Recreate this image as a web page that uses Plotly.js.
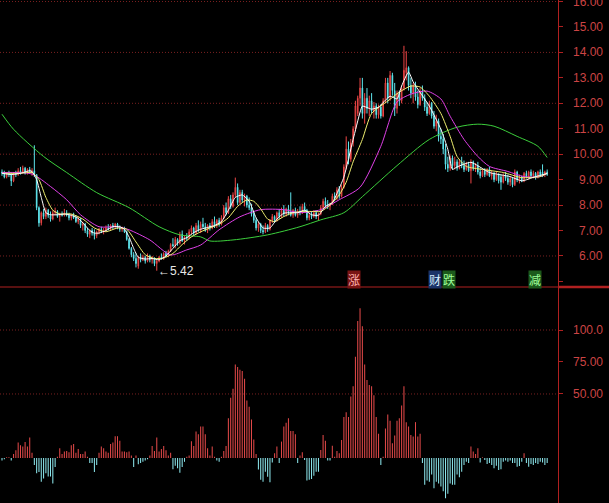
<!DOCTYPE html>
<html>
<head>
<meta charset="utf-8">
<script src="https://cdn.plot.ly/plotly-3.0.1.min.js"></script>
<style>
html,body{margin:0;padding:0;background:#000;}
#chart{width:609px;height:503px;}
</style>
</head>
<body>
<div id="chart"></div>
<script>
// ---------- data ----------
const opens = [
9.30,9.25,9.10,9.25,9.20,8.95,9.25,9.20,9.35,9.30,
9.45,9.25,9.40,9.30,9.35,9.20,7.90,7.30,7.70,7.55,
7.80,7.60,7.45,7.70,7.75,7.55,7.65,7.60,7.70,7.60,
7.50,7.60,7.50,7.35,7.45,7.20,7.25,7.00,6.85,7.00,
6.90,6.80,6.95,7.05,6.95,7.00,7.10,7.05,7.20,7.15,
7.25,7.10,7.05,7.10,6.95,6.65,6.30,6.05,5.90,5.60,
5.95,5.85,5.95,5.80,6.00,5.85,5.90,5.70,5.80,5.95,
5.90,6.10,6.00,6.20,6.45,6.40,6.65,6.50,6.85,6.60,
6.75,6.70,6.95,7.10,6.90,7.20,7.00,7.25,7.15,7.00,
7.20,7.10,7.35,7.20,7.40,7.25,7.50,7.90,7.70,8.25,
7.95,8.40,8.70,8.10,8.50,8.20,8.35,8.00,7.90,7.65,
7.40,7.10,7.25,7.00,6.95,7.20,7.05,7.40,7.55,7.40,
7.70,7.55,7.80,7.65,7.85,7.70,7.60,7.80,7.60,7.75,
7.70,7.95,7.80,7.50,7.60,7.55,7.70,7.55,7.65,7.90,
8.15,8.00,7.95,8.05,8.35,8.25,8.60,8.35,8.70,9.50,
10.20,9.80,10.45,11.00,11.60,12.20,12.60,11.60,12.20,11.80,
12.10,11.70,11.90,11.55,11.85,11.50,12.10,12.80,12.20,13.10,
12.50,11.80,12.40,12.10,12.60,13.20,13.40,12.70,12.40,12.70,
12.25,11.95,12.45,12.20,11.85,11.60,12.00,11.50,11.10,11.30,
10.70,10.60,10.20,9.60,9.45,9.85,9.55,9.70,9.45,9.70,
9.55,9.40,9.60,9.35,9.70,9.45,9.55,9.30,9.15,9.35,
9.20,9.40,9.15,9.25,9.00,9.20,9.10,8.90,9.15,9.05,
8.90,9.05,8.80,9.30,9.00,9.10,8.95,9.25,9.10,9.30,
9.15,9.25,9.10,9.30,9.30,9.20,9.30];
const highs = [
9.40,9.35,9.30,9.35,9.25,9.30,9.35,9.45,9.50,9.55,
9.50,9.45,9.50,9.45,10.35,9.20,7.95,7.75,7.85,7.90,
7.85,7.75,7.80,7.90,7.80,7.70,7.75,7.85,7.80,7.70,
7.65,7.70,7.60,7.55,7.50,7.35,7.30,7.10,7.05,7.10,
7.05,7.00,7.10,7.15,7.10,7.20,7.25,7.25,7.30,7.30,
7.30,7.20,7.15,7.15,7.00,6.70,6.35,6.15,6.10,6.00,
6.10,6.05,6.00,6.10,6.05,6.00,5.95,5.85,6.00,6.10,
6.15,6.20,6.25,6.50,6.70,6.75,6.70,6.95,7.00,6.80,
6.90,7.05,7.20,7.15,7.30,7.40,7.35,7.50,7.30,7.25,
7.30,7.45,7.55,7.45,7.50,7.60,8.00,8.10,8.35,8.40,
8.50,9.08,8.85,8.60,8.60,8.45,8.40,8.30,8.05,7.75,
7.50,7.35,7.30,7.20,7.30,7.25,7.45,7.65,7.60,7.75,
7.85,7.90,8.00,7.90,8.00,8.50,7.85,7.90,7.85,7.95,
8.05,8.10,7.85,7.70,7.75,7.80,7.80,7.70,8.00,8.25,
8.30,8.20,8.10,8.45,8.50,8.70,8.75,8.80,9.60,10.70,
10.50,10.60,11.10,12.10,12.30,13.00,13.00,12.40,12.60,12.30,
12.40,12.05,12.00,11.95,11.95,12.20,13.00,13.00,13.27,13.20,
12.80,12.50,12.50,12.70,14.26,14.05,13.45,13.00,12.80,12.85,
12.50,12.60,12.70,12.35,12.05,12.10,12.05,11.70,11.55,11.40,
11.00,10.80,10.40,9.90,9.95,9.95,9.90,9.80,9.80,9.90,
9.75,9.70,9.70,9.80,9.75,9.65,9.70,9.45,9.40,9.45,
9.45,9.50,9.35,9.30,9.30,9.25,9.20,9.25,9.30,9.20,
9.15,9.10,9.40,9.35,9.20,9.15,9.30,9.35,9.35,9.40,
9.35,9.30,9.35,9.40,9.60,9.35,9.40];
const lows = [
9.15,9.05,9.05,9.10,8.75,8.90,9.10,9.15,9.20,9.25,
9.20,9.20,9.25,9.15,9.10,7.80,7.15,7.20,7.45,7.45,
7.50,7.35,7.40,7.60,7.50,7.35,7.55,7.55,7.55,7.40,
7.40,7.45,7.30,7.25,7.10,7.00,6.90,6.75,6.70,6.80,
6.65,6.70,6.85,6.90,6.85,6.95,7.00,7.00,7.05,7.05,
7.05,6.95,6.95,6.90,6.60,6.25,5.95,5.80,5.55,5.50,
5.75,5.80,5.70,5.75,5.75,5.70,5.60,5.42,5.75,5.85,
5.85,5.95,5.95,6.15,6.35,6.30,6.40,6.45,6.55,6.45,
6.60,6.65,6.85,6.80,6.85,6.95,6.90,7.10,6.95,6.90,
7.00,7.05,7.10,7.10,7.15,7.20,7.45,7.60,7.65,7.85,
7.90,8.30,8.00,8.05,8.10,7.95,7.90,7.80,7.55,7.30,
7.00,6.95,6.90,6.85,6.90,6.95,7.00,7.30,7.30,7.35,
7.45,7.50,7.55,7.55,7.60,7.55,7.50,7.55,7.50,7.60,
7.65,7.70,7.40,7.40,7.45,7.50,7.45,7.40,7.60,7.85,
7.90,7.85,7.80,8.00,8.15,8.20,8.25,8.30,8.65,9.40,
9.60,9.70,10.30,10.90,11.50,11.90,11.40,11.20,11.60,11.50,
11.60,11.40,11.40,11.40,11.40,11.45,12.00,12.00,12.10,12.30,
11.50,11.60,11.90,12.00,12.50,12.90,12.50,12.20,12.00,12.10,
11.80,11.90,12.10,11.70,11.50,11.55,11.40,11.00,10.90,10.50,
10.40,10.00,9.40,9.30,9.35,9.40,9.40,9.35,9.40,9.45,
9.30,9.35,9.30,8.85,9.35,9.30,9.20,9.05,9.10,9.10,
9.15,9.10,9.00,8.90,8.95,8.85,8.60,8.85,8.95,8.80,
8.75,8.70,8.75,8.90,8.85,8.90,8.90,9.05,9.00,9.10,
9.05,9.00,9.05,9.10,9.10,9.10,9.15];
const closes = [
9.25,9.10,9.25,9.20,8.95,9.25,9.20,9.35,9.30,9.45,
9.25,9.40,9.30,9.35,9.20,7.90,7.30,7.70,7.55,7.80,
7.60,7.45,7.70,7.75,7.55,7.65,7.60,7.70,7.60,7.50,
7.60,7.50,7.35,7.45,7.20,7.25,7.00,6.85,7.00,6.90,
6.80,6.95,7.05,6.95,7.00,7.10,7.05,7.20,7.15,7.25,
7.10,7.05,7.10,6.95,6.65,6.30,6.05,5.90,5.70,5.95,
5.85,5.95,5.80,6.00,5.85,5.90,5.70,5.80,5.95,5.90,
6.10,6.00,6.20,6.45,6.40,6.65,6.50,6.85,6.60,6.75,
6.70,6.95,7.10,6.90,7.20,7.00,7.25,7.15,7.00,7.20,
7.10,7.35,7.20,7.40,7.25,7.50,7.90,7.70,8.25,7.95,
8.40,8.70,8.10,8.50,8.20,8.35,8.00,7.90,7.65,7.40,
7.10,7.25,7.00,6.95,7.20,7.05,7.40,7.55,7.40,7.70,
7.55,7.80,7.65,7.85,7.70,7.60,7.80,7.60,7.75,7.70,
7.95,7.80,7.50,7.60,7.55,7.70,7.55,7.65,7.90,8.15,
8.00,7.95,8.05,8.35,8.25,8.60,8.35,8.70,9.50,10.20,
9.80,10.45,11.00,11.90,12.20,12.60,11.60,12.20,11.80,12.10,
11.70,11.90,11.55,11.85,11.50,12.10,12.80,12.20,13.10,12.50,
11.80,12.40,12.10,12.60,13.30,13.40,12.70,12.40,12.70,12.25,
11.95,12.45,12.20,11.85,11.60,12.00,11.50,11.10,11.30,10.70,
10.60,10.20,9.60,9.45,9.85,9.55,9.70,9.45,9.70,9.55,
9.40,9.60,9.35,9.70,9.45,9.55,9.30,9.15,9.35,9.20,
9.40,9.15,9.25,9.00,9.20,8.95,8.90,9.15,9.05,8.90,
9.05,8.80,9.30,9.00,9.10,8.95,9.25,9.10,9.30,9.15,
9.25,9.10,9.30,9.15,9.20,9.30,9.20];

// lower-panel oscillator bars
const indicator = [
-2,-1,0.5,0.5,-2,3,6,12,10,9,
12.5,9,16,4,-5.5,-12,-11,-18.5,-16,-12,
-14.5,-14.5,-20,-7,1,7.5,3,5,5.5,4.5,
10,11,4,7,3,3,5,1,-4,-4,
-11,-5.5,4,9,7.5,5,4,11,12,17,
17,13.5,5,5,4.5,5,2,-7,2,-5,
-4,-3,-2,-1,2,9.4,5.5,16,5,7,
9.4,6,2,4,-8.8,-6,-8,-11.5,-7,-3,
1,2,13,9.4,20.6,18.5,24.5,24.5,18.5,7.5,
2,9,1,-2,-3,1,5.5,9.4,31,47,
54,73,71,69,68,62,45,40,30,14.5,
3,-9,-17,-18.5,-10.7,-14.6,-19,-3.6,3.6,9,
-4,12.8,24.5,27.6,31,21,21,18.5,-4,2,
4.4,-1.5,-17.7,-17,-16.4,-14,-10.7,-10.7,6.3,18,
13.5,-2,-2,9.6,1,5.5,3.6,14,32,35.7,
32,48,56,79,107,117,103,73,61,57,
56,49,32,19,-5.5,1,23,34,29,11.5,
17.5,29,31,41,56,28,24.5,18,16.7,28,
16.7,19,-4,-21,-17.7,-18.5,-13,-23.7,-18.5,-20,
-22.4,-26,-31.5,-28,-20,-21,-21,-13,-15,-10.7,
-5.5,-3,-4,9,5,3,7.5,-3.6,0.5,-1.5,
-4.7,-4,-5.5,-8,-6,-9.4,-8.8,-3,-2,-3,
-2,-4,-4,-6.8,-6.3,-3,3.6,-4,-6.8,-4.7,
-5.5,-4,-4.7,-3,-3.6,-5.5,-4];

// moving-average lines (read at sample bars)
const ma5Idx = [0,4,8,12,13,15,17,19,21,24,27,30,33,36,38,40,42,45,48,51,53,55,57,59,62,65,68,71,74,77,80,83,86,89,92,95,98,101,104,107,110,113,116,119,122,125,128,131,134,137,140,143,145,148,152,155,156,160,163,168,171,173,176,178,180,185,190,193,195,197,203,211,220,225,231,236];
const ma5Val = [9.25,9.20,9.25,9.35,9.32,9.00,8.30,7.70,7.62,7.62,7.65,7.60,7.48,7.20,7.00,6.90,6.90,7.00,7.15,7.15,7.05,6.75,6.30,5.95,5.88,5.90,5.85,6.00,6.30,6.60,6.72,6.92,7.05,7.12,7.20,7.35,7.80,8.30,8.40,8.15,7.50,7.10,7.10,7.45,7.68,7.70,7.70,7.80,7.62,7.60,7.95,8.10,8.45,9.10,10.58,11.65,11.89,11.77,11.85,12.28,12.17,12.68,13.23,12.84,12.56,11.89,10.98,10.19,9.40,9.50,9.68,9.28,9.12,8.95,9.12,9.24];
const ma10Idx = [0,8,13,16,19,22,25,30,35,40,45,50,54,58,62,66,70,74,78,82,86,90,94,98,102,106,109,112,115,118,122,126,130,134,138,142,146,149,152,156,160,167,172,177,181,185,190,194,197,201,208,217,225,233,236];
const ma10Val = [9.25,9.25,9.28,9.00,8.30,7.80,7.65,7.65,7.45,7.10,6.95,7.10,7.05,6.55,6.05,5.90,5.92,6.10,6.45,6.75,6.95,7.10,7.25,7.50,7.95,8.20,8.15,7.85,7.45,7.35,7.55,7.70,7.75,7.75,7.75,8.00,8.40,8.90,9.70,10.58,11.60,12.09,12.44,12.68,12.64,12.28,11.60,10.70,9.91,9.52,9.40,9.28,9.08,9.12,9.25];
const ma20Idx = [0,13,21,28,34,42,50,55,64,73,80,86,94,103,112,122,129,138,146,155,164,171,177,184,190,194,200,206,211,219,226,233,236];
const ma20Val = [9.28,9.22,8.73,8.21,7.62,7.15,7.15,7.03,6.63,6.04,6.24,6.43,7.03,7.54,7.82,7.82,7.70,7.82,8.21,8.70,10.31,12.05,12.36,12.48,12.17,11.49,10.58,9.91,9.52,9.32,9.12,9.12,9.25];
const ma60Idx = [0,5,18,28,41,55,68,77,86,90,100,115,129,138,148,156,171,185,197,206,213,223,232,236];
const ma60Val = [11.57,10.98,9.91,9.28,8.49,7.90,7.15,6.83,6.75,6.59,6.63,6.83,7.15,7.42,7.70,8.33,9.55,10.58,11.06,11.18,11.10,10.70,10.31,9.87];

// axis ticks / labels
const priceTicks = [6,7,8,9,10,11,12,13,14,15,16];
const priceGrid = [6,8,10,12,14,16];
const indTicks = [50,75,100];
const indTickText = ['50.00','75.00','100.0'];
const indGrid = [50,100];

// marks in the chart
const lowIdx = 67, lowVal = 5.42;
const eventText = ['涨','财','跌','减'];
const eventIdx = [152.4,187.4,193.3,230.7];

// ---------- styling ----------
const RED = '#ee4646', CYAN = '#5ee4ec';
const AXIS = '#b02020', LABEL = '#cc4444', GRID = '#7a2020';
const eventStyle = [
  {fg:'#ffb0b0', bg:'#7a1414'},
  {fg:'#d8ecff', bg:'#1c3468'},
  {fg:'#a0ff9a', bg:'#1c5a1c'},
  {fg:'#a0ff9a', bg:'#1c5a1c'}
];

const idx = closes.map((_, i) => i);
const PANEL = 0.4294; // boundary between panels (paper)

const traces = [
  {
    type:'candlestick', x:idx, open:opens, high:highs, low:lows, close:closes,
    xaxis:'x', yaxis:'y', whiskerwidth:0,
    increasing:{line:{color:RED, width:1}, fillcolor:'#000000'},
    decreasing:{line:{color:CYAN, width:1}, fillcolor:CYAN},
    hoverinfo:'skip'
  },
  {type:'scatter', mode:'lines', x:ma60Idx, y:ma60Val, yaxis:'y', line:{color:'#3ccf3c', width:1, shape:'spline', smoothing:0.8}, hoverinfo:'skip'},
  {type:'scatter', mode:'lines', x:ma20Idx, y:ma20Val, yaxis:'y', line:{color:'#e040e8', width:1, shape:'spline', smoothing:0.7}, hoverinfo:'skip'},
  {type:'scatter', mode:'lines', x:ma10Idx, y:ma10Val, yaxis:'y', line:{color:'#f0f070', width:1, shape:'spline', smoothing:0.6}, hoverinfo:'skip'},
  {type:'scatter', mode:'lines', x:ma5Idx, y:ma5Val, yaxis:'y', line:{color:'#ffffff', width:1, shape:'spline', smoothing:0.5}, hoverinfo:'skip'},
  {
    type:'bar', x:idx, y:indicator, yaxis:'y2', width:0.45,
    marker:{color:indicator.map(v => v >= 0 ? '#e04848' : '#8ce6ec'), line:{width:0}},
    hoverinfo:'skip'
  }
];

const shapes = [];
priceGrid.forEach(v => shapes.push({type:'line', xref:'paper', yref:'y', x0:0, x1:1, y0:v, y1:v, layer:'below', line:{color:GRID, width:1, dash:'1px,2px'}}));
indGrid.forEach(v => shapes.push({type:'line', xref:'paper', yref:'y2', x0:0, x1:1, y0:v, y1:v, layer:'below', line:{color:GRID, width:1, dash:'1px,2px'}}));
shapes.push({type:'line', xref:'paper', yref:'paper', x0:0, x1:609/558, y0:PANEL, y1:PANEL, line:{color:AXIS, width:1.2}});
shapes.push({type:'line', xref:'paper', yref:'paper', x0:1, x1:609/558, y0:PANEL, y1:PANEL, line:{color:AXIS, width:2.5}});

const annotations = [];
const LX = 604/558;
priceTicks.forEach(v => annotations.push({xref:'paper', yref:'y', x:LX, y:v, xanchor:'right', yanchor:'middle', text:v.toFixed(2), showarrow:false, borderpad:0, font:{family:'Liberation Sans, Arial, sans-serif', size:12, color:LABEL}}));
indTicks.forEach((v, k) => annotations.push({xref:'paper', yref:'y2', x:LX, y:v, xanchor:'right', yanchor:'middle', text:indTickText[k], showarrow:false, borderpad:0, font:{family:'Liberation Sans, Arial, sans-serif', size:12, color:LABEL}}));
annotations.push({xref:'x', yref:'y', x:lowIdx + 0.3, y:lowVal, xanchor:'left', yanchor:'middle', text:'←' + lowVal.toFixed(2), showarrow:false, borderpad:0, font:{family:'Liberation Sans, Arial, sans-serif', size:12, color:'#e8e8e8'}});
eventText.forEach((t, k) => annotations.push({xref:'x', yref:'y', x:eventIdx[k], y:5.06, xanchor:'center', yanchor:'middle', text:t, showarrow:false, borderpad:0, bgcolor:eventStyle[k].bg, font:{family:'Noto Sans CJK SC, sans-serif', size:12, color:eventStyle[k].fg}}));

const layout = {
  width:609, height:503,
  margin:{l:0, r:51, t:0, b:0, pad:0},
  paper_bgcolor:'#000000', plot_bgcolor:'#000000',
  showlegend:false,
  boxgap:0.6,
  xaxis:{range:[-0.866, 240.69], visible:false, rangeslider:{visible:false}, anchor:'y2', fixedrange:true},
  yaxis:{domain:[PANEL, 1], range:[4.78, 16.06], side:'right', anchor:'x',
         showgrid:false, zeroline:false, showticklabels:false,
         tickmode:'linear', tick0:0, dtick:1, ticks:'outside', ticklen:4, tickcolor:AXIS, tickwidth:1,
         showline:true, linecolor:AXIS, linewidth:1, fixedrange:true},
  yaxis2:{domain:[0, PANEL], range:[-35.2, 133.6], side:'right', anchor:'x',
         showgrid:false, zeroline:false, showticklabels:false,
         tickmode:'array', tickvals:indTicks, ticks:'outside', ticklen:4, tickcolor:AXIS, tickwidth:1,
         showline:true, linecolor:AXIS, linewidth:1, fixedrange:true},
  shapes:shapes,
  annotations:annotations
};

Plotly.newPlot('chart', traces, layout, {staticPlot:true, displayModeBar:false});
</script>
</body>
</html>
